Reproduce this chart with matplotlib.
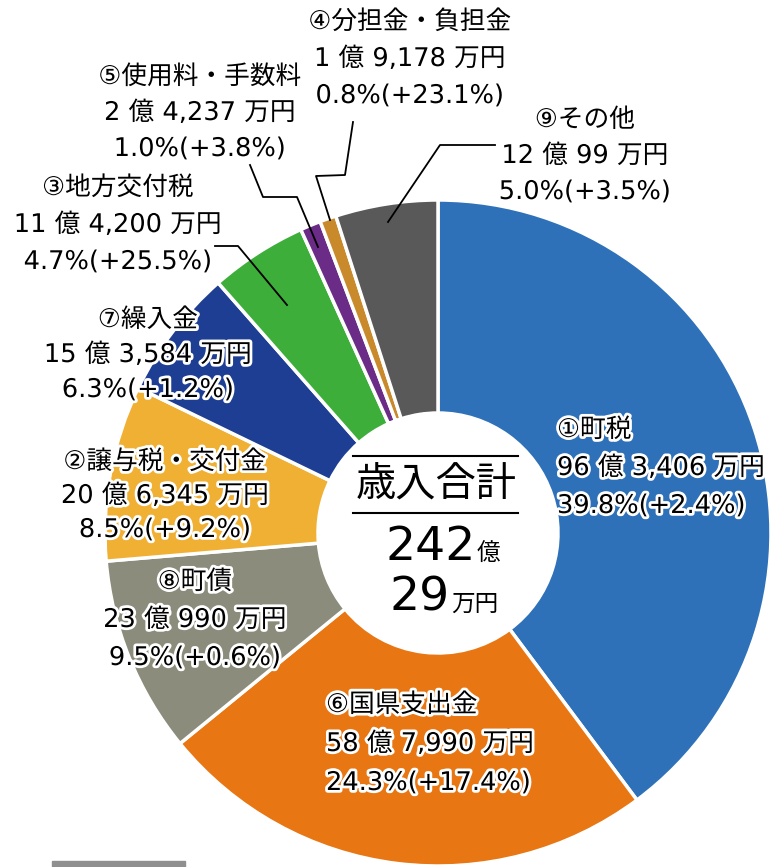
import matplotlib
matplotlib.use("Agg")
import matplotlib.pyplot as plt
import matplotlib.patheffects as pe
from matplotlib.patches import Rectangle

plt.rcParams['font.family'] = ['DejaVu Sans', 'Noto Sans CJK JP']

# === data (万円) ===
names = ["①町税", "⑥国県支出金", "⑧町債", "②譲与税・交付金", "⑦繰入金",
         "③地方交付税", "⑤使用料・手数料", "④分担金・負担金", "⑨その他"]
values = [963406, 587990, 230990, 206345, 153584, 114200, 24237, 19178, 120099]
changes = ["+2.4%", "+17.4%", "+0.6%", "+9.2%", "+1.2%", "+25.5%", "+3.8%", "+23.1%", "+3.5%"]
colors = ["#2E71B8", "#E87613", "#8B8C7B", "#EFB033", "#1D3E93",
          "#3DAE3A", "#6A2C86", "#C98A2C", "#595959"]

total = sum(values)


def yen(v):
    oku, man = divmod(v, 10000)
    return f"{oku} 億 {man:,} 万円"


W, H = 777, 867
fig = plt.figure(figsize=(W / 100, H / 100), dpi=100)

# pie drawn in a y-up axis so angles go clockwise from 12 o'clock
pax = fig.add_axes([0, 0, 1, 1])
cx, cy, R = 438, 533, 333
pax.pie(values, colors=colors, startangle=90, counterclock=False,
        center=(cx, H - cy), radius=R,
        wedgeprops=dict(width=R - 120, edgecolor="white", linewidth=2.5))
pax.set_xlim(0, W)
pax.set_ylim(0, H)
pax.set_aspect("auto")
pax.axis("off")

# text layer in pixel coords (y down)
tax = fig.add_axes([0, 0, 1, 1])
tax.set_xlim(0, W)
tax.set_ylim(H, 0)
tax.axis("off")

stroke = [pe.withStroke(linewidth=4, foreground="white")]
fs = 18.5

# (x, y of first line, line gap, alignment)
label_pos = [
    (557, 430, 38, "left"),
    (326, 705, 39, "left"),
    (195, 582, 38, "center"),
    (165, 462, 34, "center"),
    (148, 320, 35, "center"),
    (118, 188, 37, "center"),
    (200, 77, 36, "center"),
    (410, 22, 37, "center"),
    (585, 120, 36, "center"),
]

for name, v, ch, (x, y, gap, ha) in zip(names, values, changes, label_pos):
    pct = v / total * 100
    lines = [name, yen(v), f"{pct:.1f}%({ch})"]
    for i, s in enumerate(lines):
        tax.text(x, y + i * gap, s, fontsize=fs, ha=ha, va="center",
                 color="black", path_effects=stroke)

# leader lines
leaders = [
    [(215, 246), (238, 246), (287, 305)],
    [(250, 165), (263, 197), (297, 197), (318, 247)],
    [(353, 122), (345, 175), (316, 176), (330, 220)],
    [(495, 145), (440, 145), (388, 222)],
]
for pts in leaders:
    xs, ys = zip(*pts)
    tax.plot(xs, ys, color="black", lw=1.3)

# center total
tax.plot([353, 518], [456, 456], color="black", lw=1.5)
tax.plot([353, 518], [513, 513], color="black", lw=1.5)
tax.text(436, 486, "歳入合計", fontsize=29, ha="center", va="center")
oku, man = divmod(total, 10000)
tax.text(476, 548, f"{oku}", fontsize=34, ha="right", va="center")
tax.text(477, 554, "億", fontsize=17, ha="left", va="center")
tax.text(450, 598, f"{man}", fontsize=34, ha="right", va="center")
tax.text(451, 604, "万円", fontsize=17, ha="left", va="center")

# small grey bar at bottom
tax.add_patch(Rectangle((52, 861), 133, 6, color="#8F8F8F", clip_on=False))

fig.savefig("out.png", dpi=100)
